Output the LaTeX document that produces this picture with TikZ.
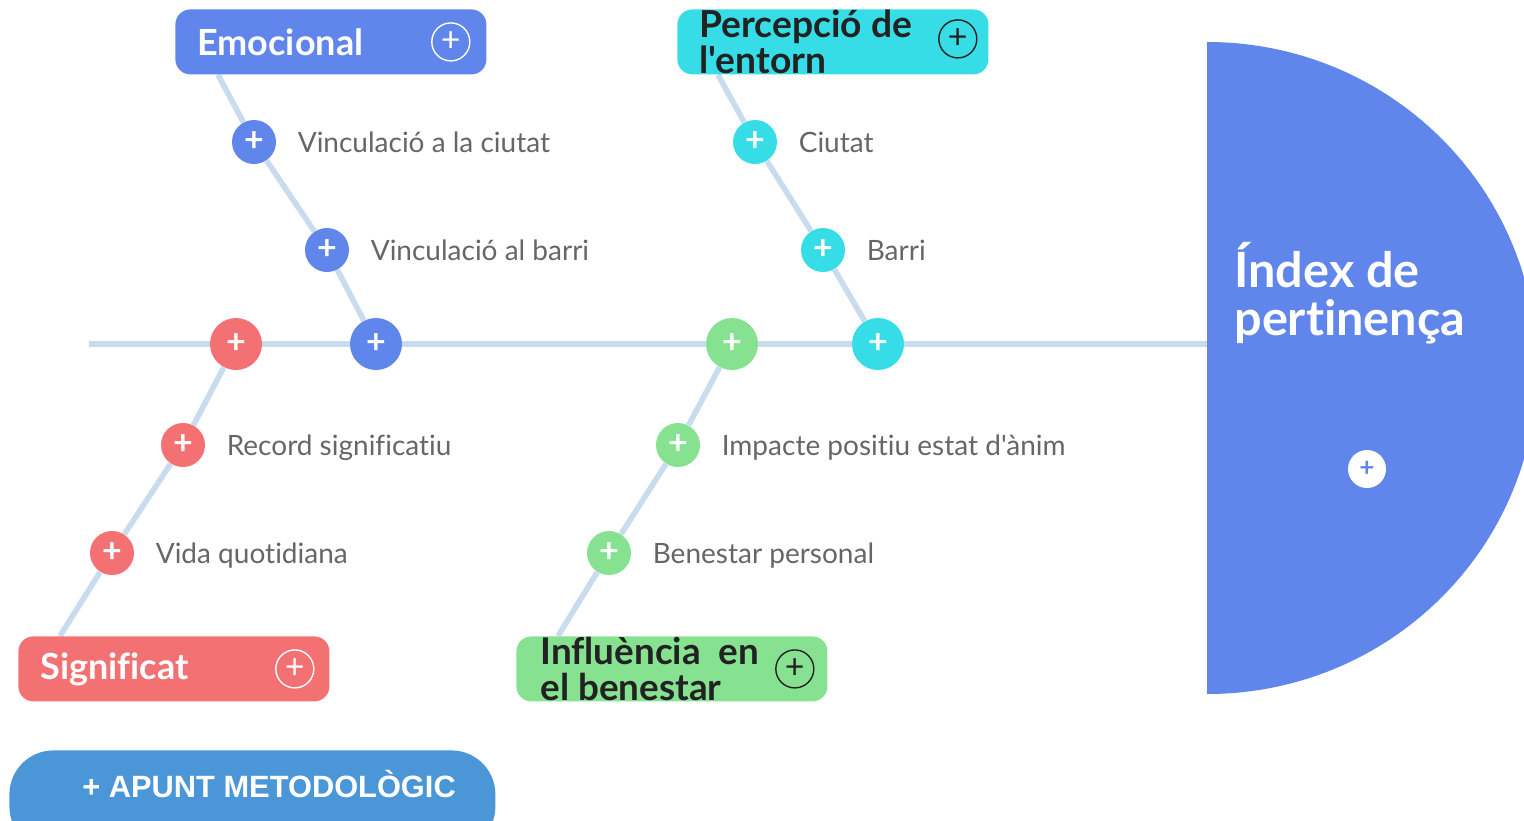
\documentclass[tikz,border=0pt]{standalone}
\usepackage{fontspec}
\setmainfont{Lato}[Ligatures={CommonOff,TeXOff}]
\newfontfamily\buttonfont{Liberation Sans}
\usetikzlibrary{positioning}
\definecolor{emoBlue}{HTML}{6086EC}
\definecolor{envCyan}{HTML}{36DCE6}
\definecolor{sigRed}{HTML}{F47173}
\definecolor{wellGreen}{HTML}{86E290}
\definecolor{boneGray}{HTML}{C9DBEE}
\definecolor{noteBlue}{HTML}{4A96D6}
\definecolor{causeGray}{HTML}{666666}
\definecolor{inkDark}{HTML}{222222}
\pgfdeclarelayer{bones}
\pgfsetlayers{bones,main}
\tikzset{
node distance=10.5pt, % gap between a bullet and its label
card/.style={fill=#1, rounded corners=7.5pt, minimum width=155.5pt, minimum height=32.5pt, inner sep=0pt, anchor=north west},
title/.style={inner sep=0pt, anchor=west, align=left, text=#1, font=\fontsize{18}{18}\selectfont\bfseries},
cardplus/.style={circle, draw=#1, line width=0.7pt, minimum size=19pt, inner sep=0pt, text=#1, font=\fontsize{17}{17}\selectfont},
bullet/.style={circle, fill=#1, minimum size=22pt, inner sep=0pt, text=white, font=\fontsize{17}{17}\selectfont\bfseries},
joint/.style={bullet=#1, minimum size=26pt},
cause/.style={inner sep=0pt, text=causeGray, text height=10pt, text depth=0pt, font=\fontsize{14}{14}\selectfont},
bone/.style={draw=boneGray, line width=2.8pt},
}

\begin{document}
\begin{tikzpicture}[x=0.5pt, y=-0.5pt]
\clip (0,0) rectangle (1524,820);

% head of the fish
\begin{scope}
  \clip (1207,0) rectangle (1524,820);
  \fill[emoBlue] (1207,368) ellipse [x radius=165pt, y radius=163pt];
\end{scope}
\node[title=white, font=\fontsize{24.3}{24}\selectfont\bfseries] (index) at (1234,293) {Índex de\\pertinença};
\node[circle, fill=white, minimum size=19pt, inner sep=0pt, text=emoBlue, font=\fontsize{13}{13}\selectfont\bfseries] (indexPlus) at (1367,469) {+};
\coordinate (head) at (1207,344);
\coordinate (tail) at (89,344);

% category cards
\node[card=emoBlue] (emo) at (175,9) {};
\node[card=envCyan] (env) at (677,9) {};
\node[card=sigRed] (sig) at (18,636) {};
\node[card=wellGreen] (well) at (516,636) {};

\node[title=white] (emoTitle) at ([xshift=11pt]emo.west) {Emocional};
\node[title=inkDark, font=\fontsize{18.6}{18}\selectfont\bfseries] (envTitle) at ([xshift=11pt]env.west) {Percepció de\\l'entorn};
\node[title=white] (sigTitle) at ([xshift=11pt]sig.west) {Significat};
\node[title=inkDark, font=\fontsize{18.4}{18}\selectfont\bfseries] (wellTitle) at ([xshift=12pt]well.west) {Influència\ \ en\\el benestar};

\node[cardplus=white] (emoPlus) at ([xshift=-18pt]emo.east) {+};
\node[cardplus=inkDark] (envPlus) at ([xshift=-15.5pt,yshift=1.5pt]env.east) {+};
\node[cardplus=white] (sigPlus) at ([xshift=-17.5pt]sig.east) {+};
\node[cardplus=inkDark] (wellPlus) at ([xshift=-16.5pt]well.east) {+};

\coordinate (emoRoot) at ([xshift=21.5pt]emo.south west);
\coordinate (envRoot) at ([xshift=20.5pt]env.south west);
\coordinate (sigRoot) at ([xshift=21pt]sig.north west);
\coordinate (wellRoot) at ([xshift=21pt]well.north west);

% bullets on the bones
\node[joint=sigRed] (sig0) at (236,344) {+};
\node[joint=emoBlue] (emo0) at (376,344) {+};
\node[joint=wellGreen] (well0) at (732,344) {+};
\node[joint=envCyan] (env0) at (878,344) {+};

\node[bullet=emoBlue] (emo1) at (254,142) {+};
\node[bullet=emoBlue] (emo2) at (327,250) {+};
\node[bullet=envCyan] (env1) at (755,142) {+};
\node[bullet=envCyan] (env2) at (823,250) {+};
\node[bullet=sigRed] (sig1) at (183,445) {+};
\node[bullet=sigRed] (sig2) at (112,553) {+};
\node[bullet=wellGreen] (well1) at (678,445) {+};
\node[bullet=wellGreen] (well2) at (609,553) {+};

% causes
\node[cause, right=of emo1] (emo1Text) {Vinculació a la ciutat};
\node[cause, right=of emo2] (emo2Text) {Vinculació al barri};
\node[cause, right=of env1] (env1Text) {Ciutat};
\node[cause, right=of env2] (env2Text) {Barri};
\node[cause, right=of sig1] (sig1Text) {Record significatiu};
\node[cause, right=of sig2] (sig2Text) {Vida quotidiana};
\node[cause, right=of well1] (well1Text) {Impacte positiu estat d'ànim};
\node[cause, right=of well2] (well2Text) {Benestar personal};

\begin{pgfonlayer}{bones}
  \path[bone]
  (tail) edge (sig0)
  (sig0) edge (emo0)
  (emo0) edge (well0)
  (well0) edge (env0)
  (env0) edge (head)

  (emoRoot) edge (emo1)
  (emo1) edge (emo2)
  (emo2) edge (emo0)

  (envRoot) edge (env1)
  (env1) edge (env2)
  (env2) edge (env0)

  (sigRoot) edge (sig2)
  (sig2) edge (sig1)
  (sig1) edge (sig0)

  (wellRoot) edge (well2)
  (well2) edge (well1)
  (well1) edge (well0);
\end{pgfonlayer}

% methodological note button
\node[fill=noteBlue, rounded corners=22pt, minimum width=243pt, minimum height=50pt, inner sep=0pt, anchor=north west] (note) at (9,750) {};
\node[text=white, inner sep=0pt, anchor=base west, font=\buttonfont\fontsize{15.4}{15}\selectfont\bfseries] (noteText) at (82,797) {+ APUNT METODOLÒGIC};
\end{tikzpicture}
\end{document}
